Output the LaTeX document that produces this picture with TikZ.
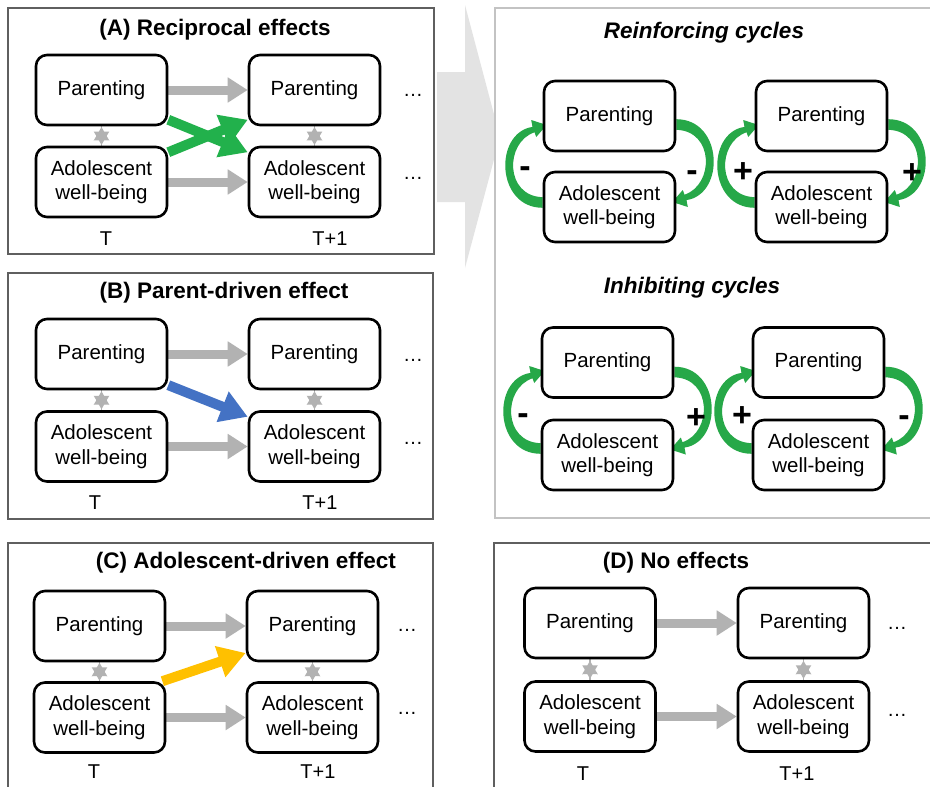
\documentclass[tikz,border=0pt]{standalone}
\usepackage{fontspec}
\setmainfont{Liberation Sans}
\usetikzlibrary{arrows.meta,shapes.geometric}
\pgfdeclarelayer{back}
\pgfdeclarelayer{edges}
\pgfsetlayers{back,edges,main}

\definecolor{arrowgray}{RGB}{178,178,178}
\definecolor{chevgray}{RGB}{227,227,227}
\definecolor{framedark}{RGB}{95,95,95}
\definecolor{framelight}{RGB}{195,195,195}
\definecolor{effgreen}{RGB}{34,177,76}
\definecolor{effblue}{RGB}{68,114,196}
\definecolor{effyellow}{RGB}{255,192,0}
\definecolor{cycgreen}{RGB}{38,168,72}

\tikzset{
  box/.style={draw=black, line width=2.6pt, rounded corners=11pt, fill=white,
    align=center, minimum width=131pt, minimum height=70pt, inner sep=2pt,
    font=\fontsize{20.5}{24.5}\selectfont},
  paneltitle/.style={font=\bfseries\fontsize{22.5}{26}\selectfont},
  cycletitle/.style={font=\bfseries\itshape\fontsize{22.5}{26}\selectfont},
  timelabel/.style={font=\fontsize{20}{23}\selectfont},
  dots/.style={font=\fontsize{20}{23}\selectfont},
  sign/.style={font=\bfseries\fontsize{34}{36}\selectfont, anchor=base, inner sep=0pt},
  stability/.style={draw=arrowgray, line width=9pt, -{Triangle[length=20pt,width=24pt]}},
  crossfx/.style={line width=10pt, -{Triangle[length=27pt,width=31pt]}},
  corr/.style={draw=arrowgray, line width=1.2pt},
  corrstar/.style={star, star points=6, star point ratio=1.75, fill=arrowgray,
    inner sep=0pt, minimum size=18pt},
  panelframe/.style={draw=framedark, line width=1.6pt},
  cycarrow/.pic={
    \fill[cycgreen] (0,5.8) .. controls (-47,5.8) and (-49,-69.3) .. (-10.2,-75.1)
      -- (-11.5,-82) -- (4,-77) -- (-6.5,-65) -- (-8.2,-69.7)
      .. controls (-38,-59.7) and (-38,-5.8) .. (0,-4.8) -- cycle;
  }
}

\begin{document}
\begin{tikzpicture}[x=1pt,y=-1pt]
\clip (0,0) rectangle (930,787);

% ---------- frames and the large transition arrow ----------
\begin{pgfonlayer}{back}
  \fill[white] (0,0) rectangle (930,787);
  \fill[chevgray] (437,72) -- (465,72) -- (465,5) -- (500,137) -- (465,268)
    -- (465,202) -- (437,202) -- cycle;
  \draw[draw=framelight, line width=1.6pt, fill=white] (495,8) rectangle (940,518);
  \draw[panelframe] (8,8) rectangle (434,254);
  \draw[panelframe] (8,273) rectangle (433,519);
  \draw[panelframe] (8,543) rectangle (433,800);
  \draw[panelframe] (494,543) rectangle (940,800);
\end{pgfonlayer}

% ---------- (A) Reciprocal effects ----------
\node[paneltitle] (aTitle) at (215,30) {(A) Reciprocal effects};
\node[box] (aP0) at (101.5,90) {Parenting};
\node[box] (aA0) at (101.5,182) {Adolescent\\well-being};
\node[box] (aP1) at (314.5,90) {Parenting};
\node[box] (aA1) at (314.5,182) {Adolescent\\well-being};
\node[timelabel] (aT0) at (106,239) {T};
\node[timelabel] (aT1) at (330,239) {T+1};
\node[dots] (aDP) at (413,95) {…};
\node[dots] (aDA) at (413,178) {…};
\begin{pgfonlayer}{edges}
  \draw[stability] (aP0) -- (aP1);
  \draw[stability] (aA0) -- (aA1);
  \draw[crossfx, effgreen] (aP0.-24) -- (aA1.156);
  \draw[crossfx, effgreen] (aA0.24) -- (aP1.204);
  \draw[corr] (aP0) -- (aA0) node[corrstar, midway] (aS0) {};
  \draw[corr] (aP1) -- (aA1) node[corrstar, midway] (aS1) {};
\end{pgfonlayer}

% ---------- (B) Parent-driven effect ----------
\node[paneltitle] (bTitle) at (224,293) {(B) Parent-driven effect};
\node[box] (bP0) at (101.5,354) {Parenting};
\node[box] (bA0) at (101.5,446.5) {Adolescent\\well-being};
\node[box] (bP1) at (314.5,354) {Parenting};
\node[box] (bA1) at (314.5,446.5) {Adolescent\\well-being};
\node[timelabel] (bT0) at (95,503) {T};
\node[timelabel] (bT1) at (320,503) {T+1};
\node[dots] (bDP) at (413,360) {…};
\node[dots] (bDA) at (413,443) {…};
\begin{pgfonlayer}{edges}
  \draw[stability] (bP0) -- (bP1);
  \draw[stability] (bA0) -- (bA1);
  \draw[crossfx, effblue] (bP0.-25) -- (bA1.156);
  \draw[corr] (bP0) -- (bA0) node[corrstar, midway] (bS0) {};
  \draw[corr] (bP1) -- (bA1) node[corrstar, midway] (bS1) {};
\end{pgfonlayer}

% ---------- (C) Adolescent-driven effect ----------
\node[paneltitle] (cTitle) at (246,563) {(C) Adolescent-driven effect};
\node[box] (cP0) at (99.5,626) {Parenting};
\node[box] (cA0) at (99.5,717.5) {Adolescent\\well-being};
\node[box] (cP1) at (312.5,626) {Parenting};
\node[box] (cA1) at (312.5,717.5) {Adolescent\\well-being};
\node[timelabel] (cT0) at (94,772) {T};
\node[timelabel] (cT1) at (318,772) {T+1};
\node[dots] (cDP) at (407,630) {…};
\node[dots] (cDA) at (407,713) {…};
\begin{pgfonlayer}{edges}
  \draw[stability] (cP0) -- (cP1);
  \draw[stability] (cA0) -- (cA1);
  \draw[crossfx, effyellow] (cA0.30) -- (cP1.202);
  \draw[corr] (cP0) -- (cA0) node[corrstar, midway] (cS0) {};
  \draw[corr] (cP1) -- (cA1) node[corrstar, midway] (cS1) {};
\end{pgfonlayer}

% ---------- (D) No effects ----------
\node[paneltitle] (dTitle) at (676,563) {(D) No effects};
\node[box] (dP0) at (590,623) {Parenting};
\node[box] (dA0) at (590,716.5) {Adolescent\\well-being};
\node[box] (dP1) at (803.5,623) {Parenting};
\node[box] (dA1) at (803.5,716.5) {Adolescent\\well-being};
\node[timelabel] (dT0) at (583,774) {T};
\node[timelabel] (dT1) at (797,774) {T+1};
\node[dots] (dDP) at (897,628) {…};
\node[dots] (dDA) at (897,715) {…};
\begin{pgfonlayer}{edges}
  \draw[stability] (dP0) -- (dP1);
  \draw[stability] (dA0) -- (dA1);
  \draw[corr] (dP0) -- (dA0) node[corrstar, midway] (dS0) {};
  \draw[corr] (dP1) -- (dA1) node[corrstar, midway] (dS1) {};
\end{pgfonlayer}

% ---------- Reinforcing cycles ----------
\node[cycletitle] (rTitle) at (704,33) {Reinforcing cycles};
\node[box] (rP0) at (609.5,116) {Parenting};
\node[box] (rA0) at (609.5,207) {Adolescent\\well-being};
\node[box] (rP1) at (821.5,116) {Parenting};
\node[box] (rA1) at (821.5,207) {Adolescent\\well-being};
\begin{pgfonlayer}{edges}
  \pic at ([yshift=5pt]rA0.west) {cycarrow};
  \pic[rotate=180] at ([yshift=-9pt]rP0.east) {cycarrow};
  \pic at ([yshift=5pt]rA1.west) {cycarrow};
  \pic[rotate=180] at ([yshift=-9pt]rP1.east) {cycarrow};
\end{pgfonlayer}
\node[sign] (rS1) at (525,177) {-};
\node[sign] (rS2) at (692,181) {-};
\node[sign] (rS3) at (743,182) {+};
\node[sign] (rS4) at (912,183) {+};

% ---------- Inhibiting cycles ----------
\node[cycletitle] (iTitle) at (692,288) {Inhibiting cycles};
\node[box] (iP0) at (607.5,362.5) {Parenting};
\node[box] (iA0) at (607.5,455) {Adolescent\\well-being};
\node[box] (iP1) at (818.5,362.5) {Parenting};
\node[box] (iA1) at (818.5,455) {Adolescent\\well-being};
\begin{pgfonlayer}{edges}
  \pic at ([yshift=7pt]iA0.west) {cycarrow};
  \pic[rotate=180] at ([yshift=-10pt]iP0.east) {cycarrow};
  \pic at ([yshift=7pt]iA1.west) {cycarrow};
  \pic[rotate=180] at ([yshift=-10pt]iP1.east) {cycarrow};
\end{pgfonlayer}
\node[sign] (iS1) at (523,424) {-};
\node[sign] (iS2) at (696,428) {+};
\node[sign] (iS3) at (742,426) {+};
\node[sign] (iS4) at (904,426) {-};
\end{tikzpicture}
\end{document}
